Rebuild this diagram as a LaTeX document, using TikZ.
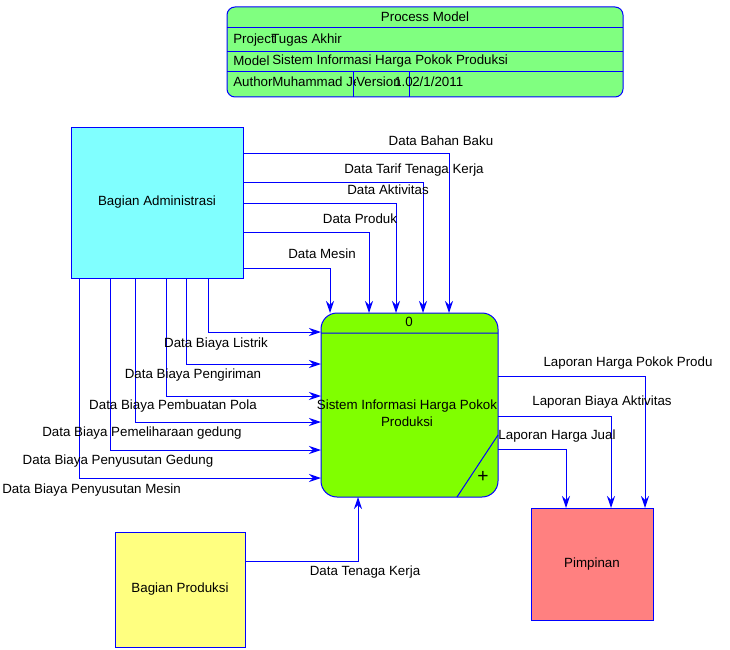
\documentclass[tikz,border=0pt]{standalone}
\usepackage{fontspec}
\setmainfont{Liberation Sans}
\usetikzlibrary{arrows.meta,positioning}

\definecolor{flowblue}{RGB}{0,0,255}
\definecolor{admcyan}{RGB}{128,255,255}
\definecolor{procgreen}{RGB}{128,255,0}
\definecolor{titlegreen}{RGB}{128,255,128}
\definecolor{prodyellow}{RGB}{255,255,128}
\definecolor{pimred}{RGB}{255,128,128}

\begin{document}
\begin{tikzpicture}[x=0.75pt,y=-0.75pt,font=\fontsize{10}{12.5}\selectfont]
		\tikzstyle{entity}=[rectangle, draw=flowblue, line width=0.75pt, inner sep=0pt, outer sep=0pt, align=center]
		\tikzstyle{process}=[entity, rounded corners=12pt, fill=procgreen]
		\tikzstyle{connect}=[draw=flowblue, line width=0.75pt, -{Stealth[length=9pt,width=6pt,inset=3pt]}]
		\tikzstyle{hv}=[to path={-| (\tikztotarget)}]
		\tikzstyle{vh}=[to path={|- (\tikztotarget)}]
		\tikzstyle{lbl}=[inner sep=0pt, align=center]
		\useasboundingbox (0,0) rectangle (730,649);
		
		% title block
		\node[entity, fill=titlegreen, rounded corners=6pt, minimum width=297pt, minimum height=67.5pt] (title) at (425,52) {};
		\draw[flowblue, line width=0.75pt] (title.west |- 0,28) -- (title.east |- 0,28)
		      (title.west |- 0,52) -- (title.east |- 0,52)
		      (title.west |- 0,72) -- (title.east |- 0,72)
		      (353,72) -- (353,97) (409,72) -- (409,97);
		\node[lbl] (ttl) at (425,17) {Process Model};
		\node[lbl, anchor=west] (proj) at (233,40) {Project};
		\node[lbl, anchor=west] (projv) at (271,40) {Tugas Akhir};
		\node[lbl, anchor=west] (mdl) at (233,61) {Model};
		\node[lbl, anchor=west] (mdlv) at (272,61) {Sistem Informasi Harga Pokok Produksi};
		\node[lbl, anchor=west] (auth) at (233,82) {Author};
		\begin{scope}
			\clip (270,72) rectangle (355,97);
			\node[lbl, anchor=west] (authv) at (272,82) {Muhammad Jeffri};
		\end{scope}
		\node[lbl, anchor=west] (ver) at (356,82) {Version};
		\node[lbl, anchor=west] (verv) at (394,82) {1.0};
		\node[lbl, anchor=west] (dt) at (412,82) {2/1/2011};
		
		% entities and process
		\node[entity, fill=admcyan, minimum width=129pt, minimum height=113.25pt] (adm) at (157,202.5) {Bagian Administrasi};
		\node[process, minimum width=132.75pt, minimum height=138pt] (proc) at (409.5,405) {};
		\node[entity, fill=pimred, minimum width=91.5pt, minimum height=84pt] (pim) at (592,564) {Pimpinan};
		\node[entity, fill=prodyellow, minimum width=97.5pt, minimum height=86.25pt] (prod) at (180,589.5) {Bagian Produksi};
		
		\draw[flowblue, line width=0.75pt] (proc.west |- 0,333) -- (proc.east |- 0,333)
		      (proc.east |- 0,435) -- (457,497);
		\node[lbl] (pnum) at (409,322) {0};
		\node[lbl] (pname) at (407,413) {Sistem Informasi Harga Pokok\\Produksi};
		\node[lbl] (plus) at (483,477) {\Large +};
		
		% flows into the process
		\path 
		(adm.east |- 0,153) edge [connect, hv] (proc.north -| 449,0)
		(adm.east |- 0,182) edge [connect, hv] (proc.north -| 423,0)
		(adm.east |- 0,203) edge [connect, hv] (proc.north -| 396,0)
		(adm.east |- 0,232) edge [connect, hv] (proc.north -| 369,0)
		(adm.east |- 0,268) edge [connect, hv] (proc.north -| 330,0)
		
		(adm.south -| 208,0) edge [connect, vh] (proc.west |- 0,332)
		(adm.south -| 186,0) edge [connect, vh] (proc.west |- 0,364)
		(adm.south -| 166,0) edge [connect, vh] (proc.west |- 0,396)
		(adm.south -| 135,0) edge [connect, vh] (proc.west |- 0,422)
		(adm.south -| 110,0) edge [connect, vh] (proc.west |- 0,450)
		(adm.south -| 79,0)  edge [connect, vh] (proc.west |- 0,478)
		
		(prod.east |- 0,561) edge [connect, hv] (proc.south -| 358,0)
		
		(proc.east |- 0,376) edge [connect, hv] (pim.north -| 645,0)
		(proc.east |- 0,416) edge [connect, hv] (pim.north -| 611,0)
		(proc.east |- 0,449) edge [connect, hv] (pim.north -| 566,0)
		;
		
		% flow labels
		\node[lbl] (f1) at (441,141) {Data Bahan Baku};
		\node[lbl] (f2) at (414,170) {Data Tarif Tenaga Kerja};
		\node[lbl] (f3) at (388,190) {Data Aktivitas};
		\node[lbl] (f4) at (360,219) {Data Produk};
		\node[lbl] (f5) at (322,254) {Data Mesin};
		\node[lbl] (f6) at (216,344) {Data Biaya Listrik};
		\node[lbl] (f7) at (193,375) {Data Biaya Pengiriman};
		\node[lbl] (f8) at (173,406) {Data Biaya Pembuatan Pola};
		\node[lbl] (f9) at (142,433) {Data Biaya Pemeliharaan gedung};
		\node[lbl] (f10) at (118,461) {Data Biaya Penyusutan Gedung};
		\node[lbl, anchor=west] (f11) at (2,490) {Data Biaya Penyusutan Mesin};
		\node[lbl] (f12) at (365,572) {Data Tenaga Kerja};
		\node[lbl] (f13) at (628,363) {Laporan Harga Pokok Produ};
		\node[lbl] (f14) at (602,402) {Laporan Biaya Aktivitas};
		\node[lbl] (f15) at (557,436) {Laporan Harga Jual};
		
		\end{tikzpicture}
\end{document}
